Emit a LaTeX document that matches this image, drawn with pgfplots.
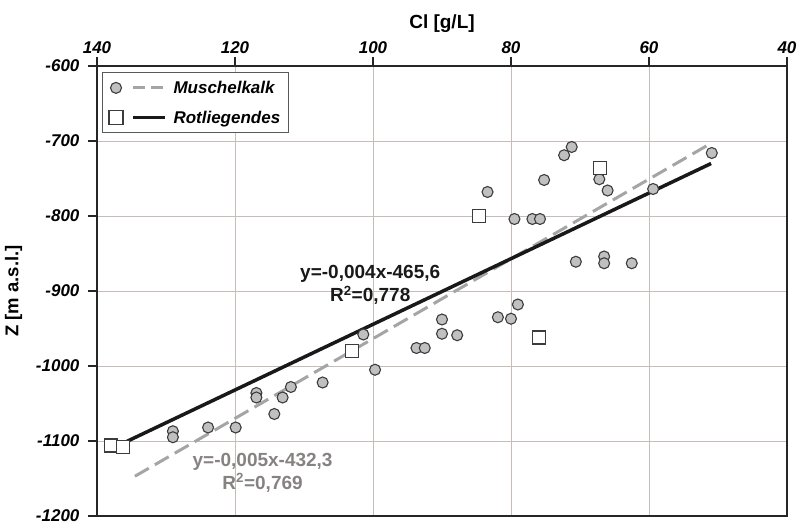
\documentclass[border=0pt]{standalone}
\usepackage{fontspec}
\setmainfont{Liberation Sans}
\usepackage{pgfplots}
\pgfplotsset{compat=1.18}
\definecolor{GridC}{RGB}{198,188,184}
\definecolor{DotFill}{RGB}{192,192,192}
\definecolor{DotEdge}{RGB}{60,60,60}
\definecolor{DashC}{RGB}{165,165,165}
\definecolor{GrayText}{RGB}{135,130,130}

\begin{document}
\begin{tikzpicture}
\begin{axis}[
    scale only axis,
    width=690pt, height=450pt,
    xmin=40, xmax=140, ymin=-1200, ymax=-600,
    x dir=reverse,
    xtick={40,60,...,140},
    ytick={-1200,-1100,...,-600},
    xtick pos=right, xticklabel pos=right,
    ytick pos=left,
    tick align=outside,
    major tick length=9pt,
    grid=major,
    grid style={GridC, line width=0.9pt},
    axis line style={line width=1.8pt, black!85},
    tick style={line width=1.5pt, black!85},
    ticklabel style={font=\fontsize{17}{19}\selectfont\bfseries\itshape},
    yticklabel style={xshift=-5pt},
    /pgf/number format/assume math mode=true,
    /pgf/number format/1000 sep={},
    xlabel={Cl [g/L]},
    ylabel={Z [m a.s.l.]},
    xlabel style={font=\fontsize{19}{21}\selectfont\bfseries, yshift=2pt},
    ylabel style={font=\fontsize{18.5}{21}\selectfont\bfseries, yshift=7pt},
    legend style={at={(rel axis cs:0.0072,0.9856)}, anchor=north west,
        draw=black!65, line width=1pt, fill=white,
        font=\fontsize{17}{19}\selectfont\bfseries\itshape,
        inner xsep=6pt, inner ysep=6pt, row sep=12pt},
    legend cell align=left,
]

% Muschelkalk
\addplot[only marks, mark=*, mark size=5.5pt,
    mark options={draw=DotEdge, fill=DotFill, line width=1.1pt}, forget plot]
coordinates {
(71.2,-708) (72.3,-719) (67.2,-751) (66.0,-766) (75.2,-752) (83.4,-768)
(59.4,-764) (50.9,-716) (79.5,-804) (76.9,-804) (75.8,-804) (70.6,-861)
(66.5,-854) (66.5,-863) (62.5,-863) (90.0,-938) (90.0,-957) (87.8,-959)
(93.7,-976) (92.5,-976) (81.9,-935) (80.0,-937) (79.0,-918) (101.4,-958)
(99.7,-1005) (107.3,-1022) (111.9,-1028) (113.1,-1042) (114.3,-1064)
(116.9,-1036) (116.9,-1042) (119.9,-1082) (123.9,-1082) (129.0,-1087)
(129.0,-1095)
};

% Rotliegendes
\addplot[only marks, mark=square*, mark size=6.5pt,
    mark options={draw=DotEdge, fill=white, line width=1.1pt}, forget plot]
coordinates {
(67.1,-736) (84.6,-800) (75.9,-962) (103.0,-980) (138.0,-1106) (136.2,-1108)
};

% trend lines
\addplot[DashC, line width=3pt, dash pattern=on 16pt off 7pt, forget plot]
coordinates {(134.5,-1147) (51,-703)};
\addplot[black!90, line width=3.5pt, forget plot]
coordinates {(136,-1102) (51,-730)};

\addlegendimage{legend image code/.code={
    \draw[DotEdge, fill=DotFill, line width=1.1pt] (0pt,0pt) circle (5.5pt);
    \draw[DashC, line width=3pt, dash pattern=on 12pt off 6pt] (17pt,0pt) -- (49pt,0pt);
    \path (0pt,-7pt) (55pt,7pt);
}}
\addlegendentry{Muschelkalk}
\addlegendimage{legend image code/.code={
    \draw[DotEdge, fill=white, line width=1.1pt] (-7pt,-7pt) rectangle (7pt,7pt);
    \draw[black!90, line width=3.5pt] (17pt,0pt) -- (49pt,0pt);
    \path (0pt,-7pt) (55pt,7pt);
}}
\addlegendentry{Rotliegendes}

\node[font=\fontsize{19}{23}\selectfont\bfseries, align=center, text=black!90]
    at (axis cs:100.4,-892) {y=-0,004x-465,6\\R\textsuperscript{2}=0,778};
\node[font=\fontsize{19}{23}\selectfont\bfseries, align=center, text=GrayText]
    at (axis cs:116,-1142) {y=-0,005x-432,3\\R\textsuperscript{2}=0,769};
\end{axis}
\pgfresetboundingbox
\path[use as bounding box] (-97pt,-10pt) rectangle (700pt,516pt);
\end{tikzpicture}
\end{document}
